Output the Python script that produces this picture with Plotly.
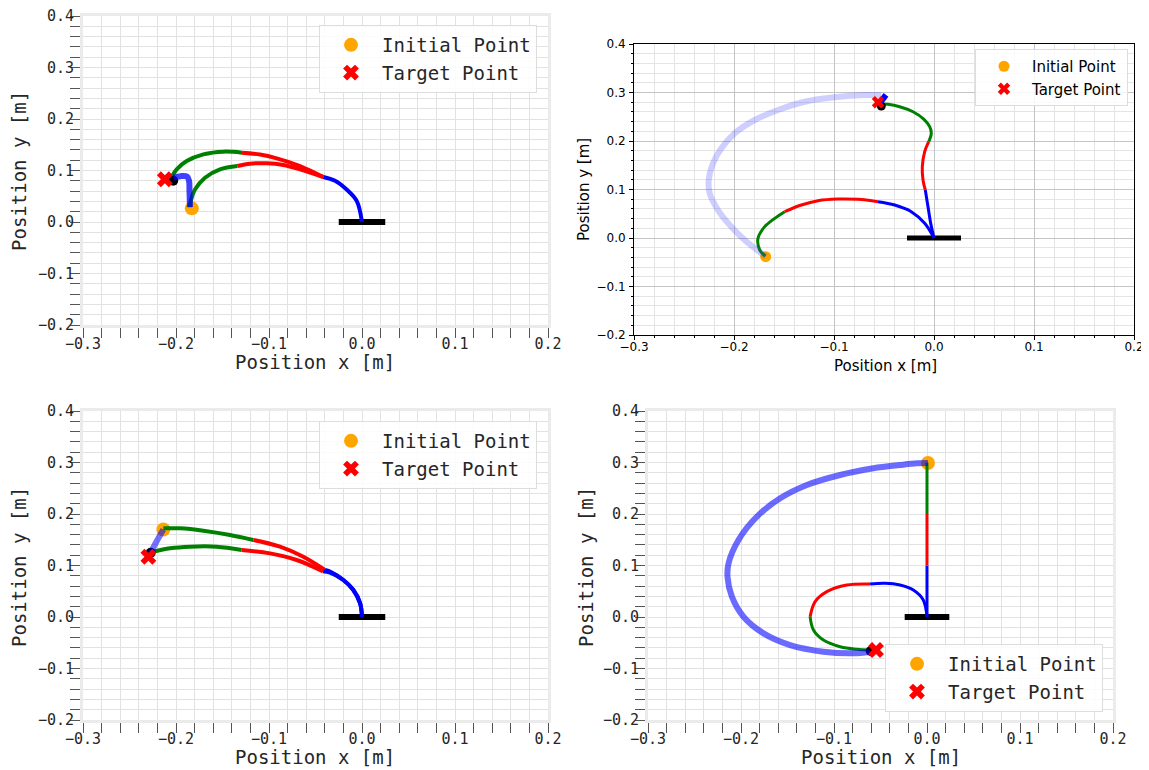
import plotly.graph_objects as go

# ---------------- DATA ----------------
TICK_VALS_X = [-0.3, -0.2, -0.1, 0.0, 0.1, 0.2]
TICK_VALS_Y = [-0.2, -0.1, 0.0, 0.1, 0.2, 0.3, 0.4]
LEGEND_NAMES = ["Initial Point", "Target Point"]

# Panel 1 (top-left)
P1_BASE_X = [-0.025, 0.025]
P1_BASE_Y = [0.0, 0.0]
P1_BLUE_X = [0.0, -0.0057, -0.0165, -0.029, -0.0416]
P1_BLUE_Y = [0.0, 0.041, 0.063, 0.080, 0.0874]
P1_INIT_RED_X = [-0.0416, -0.0667, -0.0846, -0.1025, -0.1204, -0.134]
P1_INIT_RED_Y = [0.0874, 0.1023, 0.1107, 0.114, 0.1133, 0.1087]
P1_INIT_GREEN_X = [-0.134, -0.1527, -0.1688, -0.1796, -0.1842, -0.185]
P1_INIT_GREEN_Y = [0.1087, 0.1023, 0.086, 0.063, 0.0408, 0.029]
P1_FIN_RED_X = [-0.0416, -0.0667, -0.0917, -0.1097, -0.129]
P1_FIN_RED_Y = [0.0874, 0.1087, 0.1236, 0.131, 0.1346]
P1_FIN_GREEN_X = [-0.129, -0.149, -0.1706, -0.1885, -0.1993, -0.2047]
P1_FIN_GREEN_Y = [0.1346, 0.1366, 0.1314, 0.1184, 0.1023, 0.0874]
P1_TRAJ_X = [-0.185, -0.1855, -0.186, -0.188, -0.195, -0.203]
P1_TRAJ_Y = [0.029, 0.06, 0.08, 0.088, 0.089, 0.086]
P1_START_X, P1_START_Y = [-0.183], [0.0265]
P1_TARGET_X, P1_TARGET_Y = [-0.212], [0.083]
P1_TIP_X, P1_TIP_Y = [-0.203], [0.080]

# Panel 2 (top-right)
P2_BASE_X = [-0.027, 0.027]
P2_BASE_Y = [0.0, 0.0]
P2_INIT_BLUE_X = [0.0, -0.0093, -0.0227, -0.0393, -0.056]
P2_INIT_BLUE_Y = [0.0, 0.0302, 0.0543, 0.068, 0.0749]
P2_INIT_RED_X = [-0.056, -0.076, -0.096, -0.116, -0.1327, -0.1493]
P2_INIT_RED_Y = [0.0749, 0.0797, 0.0804, 0.077, 0.068, 0.0543]
P2_INIT_GREEN_X = [-0.1493, -0.1593, -0.1693, -0.176, -0.1743, -0.1687]
P2_INIT_GREEN_Y = [0.0543, 0.0405, 0.0234, -0.0007, -0.0247, -0.0371]
P2_FIN_BLUE_X = [0.0, -0.0033, -0.006, -0.0087]
P2_FIN_BLUE_Y = [0.0, 0.0302, 0.0646, 0.099]
P2_FIN_RED_X = [-0.0087, -0.011, -0.0117, -0.0093, -0.0053]
P2_FIN_RED_Y = [0.099, 0.1196, 0.147, 0.178, 0.1986]
P2_FIN_GREEN_X = [-0.0053, -0.0027, -0.0043, -0.010, -0.021, -0.0343, -0.046, -0.0527]
P2_FIN_GREEN_Y = [0.1986, 0.2158, 0.2295, 0.2447, 0.2604, 0.2707, 0.2756, 0.2763]
P2_TRAJ_X = [-0.1683, -0.1727, -0.1893, -0.2027, -0.216, -0.2243, -0.2253, -0.221,
             -0.2127, -0.1993, -0.1793, -0.156, -0.1293, -0.0993, -0.0693, -0.0527]
P2_TRAJ_Y = [-0.0385, -0.0316, -0.0041, 0.0233, 0.0577, 0.0921, 0.1196, 0.154,
             0.185, 0.2159, 0.2433, 0.2639, 0.281, 0.29, 0.2948, 0.2948]
P2_BLOB_X = [-0.054, -0.051, -0.048]
P2_BLOB_Y = [0.279, 0.288, 0.295]
P2_START_X, P2_START_Y = [-0.1683], [-0.0385]
P2_TARGET_X, P2_TARGET_Y = [-0.056], [0.280]
P2_TIP_X, P2_TIP_Y = [-0.0527], [0.272]

# Panel 3 (bottom-left)
P3_BASE_X = [-0.025, 0.025]
P3_BASE_Y = [0.0, 0.0]
P3_INIT_BLUE_X = [0.0, -0.002, -0.0093, -0.0201, -0.0344, -0.0398]
P3_INIT_BLUE_Y = [0.0, 0.0265, 0.0524, 0.0718, 0.088, 0.0913]
P3_INIT_RED_X = [-0.0398, -0.0631, -0.0882, -0.1168]
P3_INIT_RED_Y = [0.0913, 0.117, 0.1366, 0.1495]
P3_INIT_GREEN_X = [-0.1168, -0.1419, -0.1706, -0.1957, -0.2136]
P3_INIT_GREEN_Y = [0.1495, 0.1592, 0.1676, 0.1722, 0.1722]
P3_FIN_BLUE_X = [0.0, -0.002, -0.0093, -0.0201, -0.0344, -0.0418]
P3_FIN_BLUE_Y = [0.0, 0.0265, 0.0524, 0.0718, 0.086, 0.0887]
P3_FIN_RED_X = [-0.0418, -0.0703, -0.0989, -0.1294]
P3_FIN_RED_Y = [0.0887, 0.1107, 0.1236, 0.1301]
P3_FIN_GREEN_X = [-0.1294, -0.1563, -0.1849, -0.2065, -0.2244]
P3_FIN_GREEN_Y = [0.1301, 0.1365, 0.1365, 0.1333, 0.1268]
P3_TRAJ_X = [-0.2136, -0.2205, -0.2272]
P3_TRAJ_Y = [0.170, 0.148, 0.125]
P3_START_X, P3_START_Y = [-0.2136], [0.170]
P3_TARGET_X, P3_TARGET_Y = [-0.2297], [0.117]
P3_TIP_X, P3_TIP_Y = [-0.2272], [0.1249]

# Panel 4 (bottom-right)
P4_BASE_X = [-0.024, 0.024]
P4_BASE_Y = [0.0, 0.0]
P4_INIT_BLUE_X = [0.0, 0.0]
P4_INIT_BLUE_Y = [0.0, 0.1]
P4_INIT_RED_X = [0.0, 0.0]
P4_INIT_RED_Y = [0.1, 0.2]
P4_INIT_GREEN_X = [0.0, 0.0]
P4_INIT_GREEN_Y = [0.2, 0.3]
P4_FIN_BLUE_X = [0.0, -0.004, -0.0147, -0.029, -0.0451, -0.0612]
P4_FIN_BLUE_Y = [0.0, 0.033, 0.0524, 0.062, 0.0654, 0.064]
P4_FIN_RED_X = [-0.0612, -0.0863, -0.1077, -0.1203, -0.1257]
P4_FIN_RED_Y = [0.064, 0.062, 0.0492, 0.0298, 0.0006]
P4_FIN_GREEN_X = [-0.1257, -0.1221, -0.1114, -0.0934, -0.0755, -0.0612]
P4_FIN_GREEN_Y = [0.0006, -0.0252, -0.0447, -0.0577, -0.0627, -0.064]
P4_TRAJ_X = [0.001, -0.011, -0.029, -0.0577, -0.0934, -0.1292, -0.1579, -0.1829, -0.2027,
             -0.2134, -0.2145, -0.2098, -0.1973, -0.1758, -0.1472, -0.1114, -0.0792, -0.0612]
P4_TRAJ_Y = [0.299, 0.2984, 0.2951, 0.2887, 0.2757, 0.2563, 0.2304, 0.1948, 0.1495,
             0.1042, 0.0783, 0.0395, 0.0006, -0.0317, -0.0544, -0.0673, -0.0705, -0.0673]
P4_START_X, P4_START_Y = [0.001], [0.299]
P4_TARGET_X, P4_TARGET_Y = [-0.0548], [-0.064]
P4_TIP_X, P4_TIP_Y = [-0.0605], [-0.066]

# ---------------- LAYOUT HELPERS ----------------
PAGE_OFF = 8                      # default body margin of the html page
W, H = 1149 - PAGE_OFF, 770 - PAGE_OFF
BLUE, RED, GREEN = "#0000ff", "#ff0000", "#008000"
ORANGE = "#ffa500"
MONO = "DejaVu Sans Mono"
SANS = "DejaVu Sans"


def fx(p):
    return (p - PAGE_OFF) / W


def fy(p):
    return 1 - (p - PAGE_OFF) / H


fig = go.Figure()


def add_panel(n, base, arms, traj, traj_color, traj_w, arm_w, base_w,
              start, target, tip, start_size, x_size, tip_size, blob=None):
    xa = "x" if n == 1 else f"x{n}"
    ya = "y" if n == 1 else f"y{n}"
    lg = "legend" if n == 1 else f"legend{n}"
    fig.add_trace(go.Scatter(x=start[0], y=start[1], mode="markers", name=LEGEND_NAMES[0],
                             marker=dict(color=ORANGE, size=start_size, symbol="circle"),
                             xaxis=xa, yaxis=ya, legend=lg, showlegend=True))
    fig.add_trace(go.Scatter(x=base[0], y=base[1], mode="lines",
                             line=dict(color="black", width=base_w),
                             xaxis=xa, yaxis=ya, showlegend=False))
    for ax_, ay_, col in arms:
        fig.add_trace(go.Scatter(x=ax_, y=ay_, mode="lines",
                                 line=dict(color=col, width=arm_w, shape="spline"),
                                 xaxis=xa, yaxis=ya, showlegend=False))
    fig.add_trace(go.Scatter(x=tip[0], y=tip[1], mode="markers",
                             marker=dict(color="black", size=tip_size),
                             xaxis=xa, yaxis=ya, showlegend=False))
    fig.add_trace(go.Scatter(x=traj[0], y=traj[1], mode="lines",
                             line=dict(color=traj_color, width=traj_w, shape="spline"),
                             xaxis=xa, yaxis=ya, showlegend=False))
    if blob is not None:
        fig.add_trace(go.Scatter(x=blob[0], y=blob[1], mode="lines",
                                 line=dict(color=BLUE, width=6),
                                 xaxis=xa, yaxis=ya, showlegend=False))
    fig.add_trace(go.Scatter(x=target[0], y=target[1], mode="markers", name=LEGEND_NAMES[1],
                             marker=dict(color=RED, size=x_size, symbol="x",
                                         line=dict(width=0)),
                             xaxis=xa, yaxis=ya, legend=lg, showlegend=True))


add_panel(1, (P1_BASE_X, P1_BASE_Y),
          [(P1_BLUE_X, P1_BLUE_Y, BLUE), (P1_INIT_RED_X, P1_INIT_RED_Y, RED),
           (P1_INIT_GREEN_X, P1_INIT_GREEN_Y, GREEN),
           (P1_FIN_RED_X, P1_FIN_RED_Y, RED), (P1_FIN_GREEN_X, P1_FIN_GREEN_Y, GREEN)],
          (P1_TRAJ_X, P1_TRAJ_Y), "rgba(0,0,255,0.75)", 6, 4, 6,
          (P1_START_X, P1_START_Y), (P1_TARGET_X, P1_TARGET_Y), (P1_TIP_X, P1_TIP_Y), 14, 14, 10)

add_panel(2, (P2_BASE_X, P2_BASE_Y),
          [(P2_INIT_BLUE_X, P2_INIT_BLUE_Y, BLUE), (P2_INIT_RED_X, P2_INIT_RED_Y, RED),
           (P2_INIT_GREEN_X, P2_INIT_GREEN_Y, GREEN),
           (P2_FIN_BLUE_X, P2_FIN_BLUE_Y, BLUE), (P2_FIN_RED_X, P2_FIN_RED_Y, RED),
           (P2_FIN_GREEN_X, P2_FIN_GREEN_Y, GREEN)],
          (P2_TRAJ_X, P2_TRAJ_Y), "rgba(60,60,255,0.25)", 6, 3, 5,
          (P2_START_X, P2_START_Y), (P2_TARGET_X, P2_TARGET_Y), (P2_TIP_X, P2_TIP_Y), 11, 11, 9,
          blob=(P2_BLOB_X, P2_BLOB_Y))

add_panel(3, (P3_BASE_X, P3_BASE_Y),
          [(P3_INIT_BLUE_X, P3_INIT_BLUE_Y, BLUE), (P3_INIT_RED_X, P3_INIT_RED_Y, RED),
           (P3_INIT_GREEN_X, P3_INIT_GREEN_Y, GREEN),
           (P3_FIN_BLUE_X, P3_FIN_BLUE_Y, BLUE), (P3_FIN_RED_X, P3_FIN_RED_Y, RED),
           (P3_FIN_GREEN_X, P3_FIN_GREEN_Y, GREEN)],
          (P3_TRAJ_X, P3_TRAJ_Y), "rgba(0,0,255,0.55)", 6, 4, 6,
          (P3_START_X, P3_START_Y), (P3_TARGET_X, P3_TARGET_Y), (P3_TIP_X, P3_TIP_Y), 14, 14, 10)

add_panel(4, (P4_BASE_X, P4_BASE_Y),
          [(P4_INIT_BLUE_X, P4_INIT_BLUE_Y, BLUE), (P4_INIT_RED_X, P4_INIT_RED_Y, RED),
           (P4_INIT_GREEN_X, P4_INIT_GREEN_Y, GREEN),
           (P4_FIN_BLUE_X, P4_FIN_BLUE_Y, BLUE), (P4_FIN_RED_X, P4_FIN_RED_Y, RED),
           (P4_FIN_GREEN_X, P4_FIN_GREEN_Y, GREEN)],
          (P4_TRAJ_X, P4_TRAJ_Y), "rgba(0,0,255,0.58)", 6, 3, 6,
          (P4_START_X, P4_START_Y), (P4_TARGET_X, P4_TARGET_Y), (P4_TIP_X, P4_TIP_Y), 14, 14, 10)


def mono_axis(domain, anchor, rng, tickvals):
    return dict(domain=domain, anchor=anchor, range=rng, tickvals=tickvals,
                tickformat=".1f", showgrid=True, gridcolor="#e2e2e2", gridwidth=1,
                zeroline=False, showline=True, mirror=True, linecolor="#ebebeb", linewidth=3,
                ticks="outside", ticklen=5, tickwidth=1.2, tickcolor="#555555",
                ticklabelstandoff=-2, ticklabeloverflow="allow",
                tickfont=dict(family=MONO, size=15, color="#262626"),
                minor=dict(dtick=0.02, tick0=0, ticks="outside", ticklen=10, tickwidth=1.2,
                           tickcolor="#555555", showgrid=True, gridcolor="#e2e2e2", gridwidth=1),
                automargin=False, fixedrange=True)


def sans_axis(domain, anchor, rng, tickvals, standoff):
    return dict(domain=domain, anchor=anchor, range=rng, tickvals=tickvals,
                tickformat=".1f", showgrid=True, gridcolor="#c4c4c4", gridwidth=1,
                zeroline=False, showline=True, mirror=True, linecolor="black", linewidth=1,
                ticks="outside", ticklen=4, tickwidth=1, tickcolor="black",
                ticklabelstandoff=standoff, ticklabeloverflow="allow",
                tickfont=dict(family=SANS, size=12, color="black"),
                minor=dict(dtick=0.02, tick0=0, ticks="outside", ticklen=2, tickwidth=0.8,
                           tickcolor="black", showgrid=True, gridcolor="#e4e4e4", gridwidth=1),
                automargin=False, fixedrange=True)


XR, YR = [-0.3, 0.2], [-0.2, 0.4]
D1x, D1y = [fx(83), fx(548)], [fy(325), fy(16)]
D2x, D2y = [fx(634), fx(1134)], [fy(335), fy(44)]
D3x, D3y = [fx(83), fx(548)], [fy(720), fy(411)]
D4x, D4y = [fx(648), fx(1113)], [fy(720), fy(411)]


def legend_box(xr, ytop, anchor_y, font, itemwidth):
    return dict(x=xr, y=ytop, xanchor="right", yanchor=anchor_y, xref="paper", yref="paper",
                bgcolor="rgba(255,255,255,0.85)", bordercolor="#dddddd", borderwidth=1,
                font=font, itemwidth=itemwidth, tracegroupgap=0)


mono_leg = dict(family=MONO, size=19, color="#262626")
sans_leg = dict(family=SANS, size=15, color="black")


def title_ann(text, xp, yp, font, angle=0):
    return dict(text=text, x=fx(xp), y=fy(yp), xref="paper", yref="paper", showarrow=False,
                xanchor="center", yanchor="middle", textangle=angle, font=font)


mono_title = dict(family=MONO, size=19, color="#262626")
sans_title = dict(family=SANS, size=15, color="black")

fig.update_layout(
    width=W, height=H, margin=dict(l=0, r=0, t=0, b=0),
    paper_bgcolor="white", plot_bgcolor="white",
    xaxis=mono_axis(D1x, "y", XR, TICK_VALS_X), yaxis=mono_axis(D1y, "x", YR, TICK_VALS_Y),
    xaxis2=sans_axis(D2x, "y2", XR, TICK_VALS_X, -3),
    yaxis2=sans_axis(D2y, "x2", YR, TICK_VALS_Y, 1),
    xaxis3=mono_axis(D3x, "y3", XR, TICK_VALS_X), yaxis3=mono_axis(D3y, "x3", YR, TICK_VALS_Y),
    xaxis4=mono_axis(D4x, "y4", XR, TICK_VALS_X), yaxis4=mono_axis(D4y, "x4", YR, TICK_VALS_Y),
    legend=legend_box(fx(537), fy(25), "top", mono_leg, 52),
    legend2=legend_box(fx(1128), fy(49), "top", sans_leg, 46),
    legend3=legend_box(fx(537), fy(421), "top", mono_leg, 52),
    legend4=legend_box(fx(1103), fy(712), "bottom", mono_leg, 52),
    annotations=[
        title_ann("Position x [m]", 315.5, 362, mono_title),
        title_ann("Position y [m]", 19, 171, mono_title, -90),
        title_ann("Position x [m]", 885, 366, sans_title),
        title_ann("Position y [m]", 584, 190, sans_title, -90),
        title_ann("Position x [m]", 315.5, 757, mono_title),
        title_ann("Position y [m]", 19, 567, mono_title, -90),
        title_ann("Position x [m]", 881, 757, mono_title),
        title_ann("Position y [m]", 586, 567, mono_title, -90),
    ],
)

fig.write_html("out.html")
